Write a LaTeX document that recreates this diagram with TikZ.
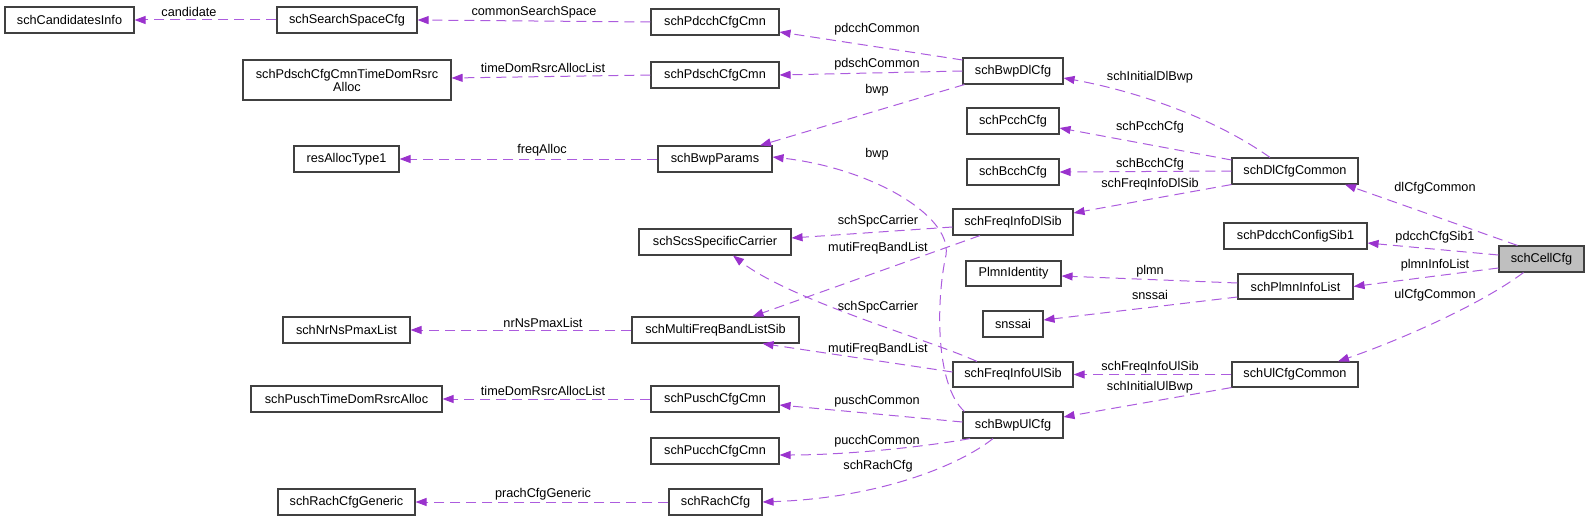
\documentclass[tikz,border=0pt]{standalone}
\usepackage{fontspec}
\setmainfont{Liberation Sans}
\usetikzlibrary{arrows.meta}
\definecolor{orchid}{RGB}{154,50,205}
\definecolor{orchidline}{RGB}{172,92,222}
\definecolor{boxline}{RGB}{64,64,64}
\begin{document}
\begin{tikzpicture}[x=1pt,y=-1pt,
  every node/.style={font=\fontsize{12.7}{15}\selectfont},
  box/.style={draw=boxline,line width=1.1pt,fill=white,inner sep=0pt,minimum height=26pt,align=center},
  edge/.style={draw=orchidline,line width=1pt,dash pattern=on 10pt off 6pt,
    -{Triangle[length=11pt,width=8pt,color=orchid]}},
  lbl/.style={inner sep=0pt}]
\useasboundingbox (0,0) rectangle (1589,519);
% nodes
\node[box,minimum width=129pt] (cand) at (69.5,20) {schCandidatesInfo};
\node[box,minimum width=140pt] (ssc) at (347,20) {schSearchSpaceCfg};
\node[box,minimum width=128pt] (pdcchcmn) at (715,22) {schPdcchCfgCmn};
\node[box,minimum width=208pt,minimum height=40pt] (pdschtd) at (347,80) {schPdschCfgCmnTimeDomRsrc\\[-2pt]Alloc};
\node[box,minimum width=128pt] (pdschcmn) at (715,75) {schPdschCfgCmn};
\node[box,minimum width=100pt] (bwpdl) at (1013,71) {schBwpDlCfg};
\node[box,minimum width=105pt] (resalloc) at (346.5,159) {resAllocType1};
\node[box,minimum width=114pt] (bwpparams) at (715,159) {schBwpParams};
\node[box,minimum width=92pt] (pcch) at (1013,121) {schPcchCfg};
\node[box,minimum width=92pt] (bcch) at (1013,172) {schBcchCfg};
\node[box,minimum width=126pt] (dlcommon) at (1295,171) {schDlCfgCommon};
\node[box,minimum width=120pt] (fidl) at (1013,222) {schFreqInfoDlSib};
\node[box,minimum width=152pt] (scs) at (715,242) {schScsSpecificCarrier};
\node[box,minimum width=143pt] (pdcchsib1) at (1295.5,236) {schPdcchConfigSib1};
\node[box,minimum width=85pt,fill={rgb,255:red,191;green,191;blue,191}] (cell) at (1541.5,259) {schCellCfg};
\node[box,minimum width=95pt,minimum height=25pt] (plmnid) at (1013.5,273.5) {PlmnIdentity};
\node[box,minimum width=115pt,minimum height=25pt] (plmnlist) at (1295.5,286.5) {schPlmnInfoList};
\node[box,minimum width=60pt] (snssai) at (1013,324) {snssai};
\node[box,minimum width=127pt] (nrns) at (346.5,330) {schNrNsPmaxList};
\node[box,minimum width=167pt] (multi) at (715.5,330) {schMultiFreqBandListSib};
\node[box,minimum width=120pt,minimum height=25pt] (fiul) at (1013,374.5) {schFreqInfoUlSib};
\node[box,minimum width=126pt,minimum height=25pt] (ulcommon) at (1295,374.5) {schUlCfgCommon};
\node[box,minimum width=191pt] (puschtd) at (346.5,399) {schPuschTimeDomRsrcAlloc};
\node[box,minimum width=128pt] (puschcmn) at (715,399) {schPuschCfgCmn};
\node[box,minimum width=100pt] (bwpul) at (1013,425) {schBwpUlCfg};
\node[box,minimum width=128pt] (pucchcmn) at (715,451) {schPucchCfgCmn};
\node[box,minimum width=137pt] (rachgen) at (346.5,502) {schRachCfgGeneric};
\node[box,minimum width=93pt] (rach) at (715.5,502) {schRachCfg};
% edges
\draw[edge] (ssc.west) -- (cand.east);
\draw[edge] (pdcchcmn.west) -- (ssc.east);
\draw[edge] ([yshift=11pt]bwpdl.west) -- ([yshift=-10pt]pdcchcmn.east);
\draw[edge] (bwpdl.west) -- (pdschcmn.east);
\draw[edge] (pdschcmn.west) -- ([yshift=2pt]pdschtd.east);
\draw[edge] ([xshift=2pt]bwpdl.south west) -- ([xshift=45pt]bwpparams.north);
\draw[edge] (bwpparams.west) -- (resalloc.east);
\draw[edge] ([xshift=2pt]bwpul.north west) .. controls (935,385) and (936,300) .. (946,255)
  .. controls (952,215) and (870,168) .. ([yshift=2pt]bwpparams.east);
\draw[edge] ([xshift=-25pt]dlcommon.north) .. controls (1210,115) and (1130,90) .. ([yshift=-7pt]bwpdl.east);
\draw[edge] ([yshift=11pt]dlcommon.west) -- ([yshift=-7pt]pcch.east);
\draw[edge] (dlcommon.west) -- (bcch.east);
\draw[edge] (dlcommon.south west) -- ([yshift=9pt]fidl.east);
\draw[edge] ([xshift=-24pt]cell.north) -- ([xshift=50pt]dlcommon.south);
\draw[edge] ([yshift=4pt]cell.west) -- ([yshift=-7pt]pdcchsib1.east);
\draw[edge] ([yshift=-9pt]cell.west) -- (plmnlist.east);
\draw[edge] ([xshift=-18pt]cell.south) .. controls (1480,305) and (1400,340) .. ([xshift=43pt]ulcommon.north);
\draw[edge] ([yshift=3.5pt]plmnlist.west) -- ([yshift=-2.5pt]plmnid.east);
\draw[edge] ([yshift=-10.5pt]plmnlist.west) -- ([yshift=4pt]snssai.east);
\draw[edge] ([yshift=-5pt]fidl.west) -- ([yshift=4pt]scs.east);
\draw[edge] ([xshift=-33pt]fidl.south) -- ([xshift=37pt]multi.north);
\draw[edge] ([xshift=-36pt]fiul.north) .. controls (930,340) and (790,300) .. ([xshift=18pt]scs.south);
\draw[edge] ([yshift=2.5pt]fiul.west) -- ([xshift=47pt]multi.south);
\draw[edge] (multi.west) -- (nrns.east);
\draw[edge] (ulcommon.west) -- (fiul.east);
\draw[edge] (ulcommon.south west) -- ([yshift=8pt]bwpul.east);
\draw[edge] ([yshift=3pt]bwpul.west) -- ([yshift=-6pt]puschcmn.east);
\draw[edge] (puschcmn.west) -- (puschtd.east);
\draw[edge] ([xshift=-43pt]bwpul.south) .. controls (930,446) and (850,455) .. ([yshift=-4pt]pucchcmn.east);
\draw[edge] ([xshift=-20pt]bwpul.south) .. controls (960,465) and (880,498) .. (rach.east);
\draw[edge] (rach.west) -- (rachgen.east);
% labels
\node[lbl] (l1) at (189,12) {candidate};
\node[lbl] (l2) at (534,12) {commonSearchSpace};
\node[lbl] (l3) at (877,29) {pdcchCommon};
\node[lbl] (l4) at (877,64) {pdschCommon};
\node[lbl] (l5) at (543,68) {timeDomRsrcAllocList};
\node[lbl] (l6) at (877,90) {bwp};
\node[lbl] (l7) at (542,150) {freqAlloc};
\node[lbl] (l8) at (877,154) {bwp};
\node[lbl] (l9) at (1150,77) {schInitialDlBwp};
\node[lbl] (l10) at (1150,127) {schPcchCfg};
\node[lbl] (l11) at (1150,164) {schBcchCfg};
\node[lbl] (l12) at (1150,184) {schFreqInfoDlSib};
\node[lbl] (l13) at (1435,188) {dlCfgCommon};
\node[lbl] (l14) at (1435,237) {pdcchCfgSib1};
\node[lbl] (l15) at (1435,265) {plmnInfoList};
\node[lbl] (l16) at (1435,295) {ulCfgCommon};
\node[lbl] (l17) at (1150,271) {plmn};
\node[lbl] (l18) at (1150,295) {snssai};
\node[lbl] (l19) at (878,221) {schSpcCarrier};
\node[lbl] (l20) at (878,248) {mutiFreqBandList};
\node[lbl] (l21) at (878,307) {schSpcCarrier};
\node[lbl] (l22) at (878,349) {mutiFreqBandList};
\node[lbl] (l23) at (543,323) {nrNsPmaxList};
\node[lbl] (l24) at (1150,367) {schFreqInfoUlSib};
\node[lbl] (l25) at (1150,387) {schInitialUlBwp};
\node[lbl] (l26) at (877,401) {puschCommon};
\node[lbl] (l27) at (543,391) {timeDomRsrcAllocList};
\node[lbl] (l28) at (877,441) {pucchCommon};
\node[lbl] (l29) at (878,466) {schRachCfg};
\node[lbl] (l30) at (543,494) {prachCfgGeneric};
\end{tikzpicture}
\end{document}
